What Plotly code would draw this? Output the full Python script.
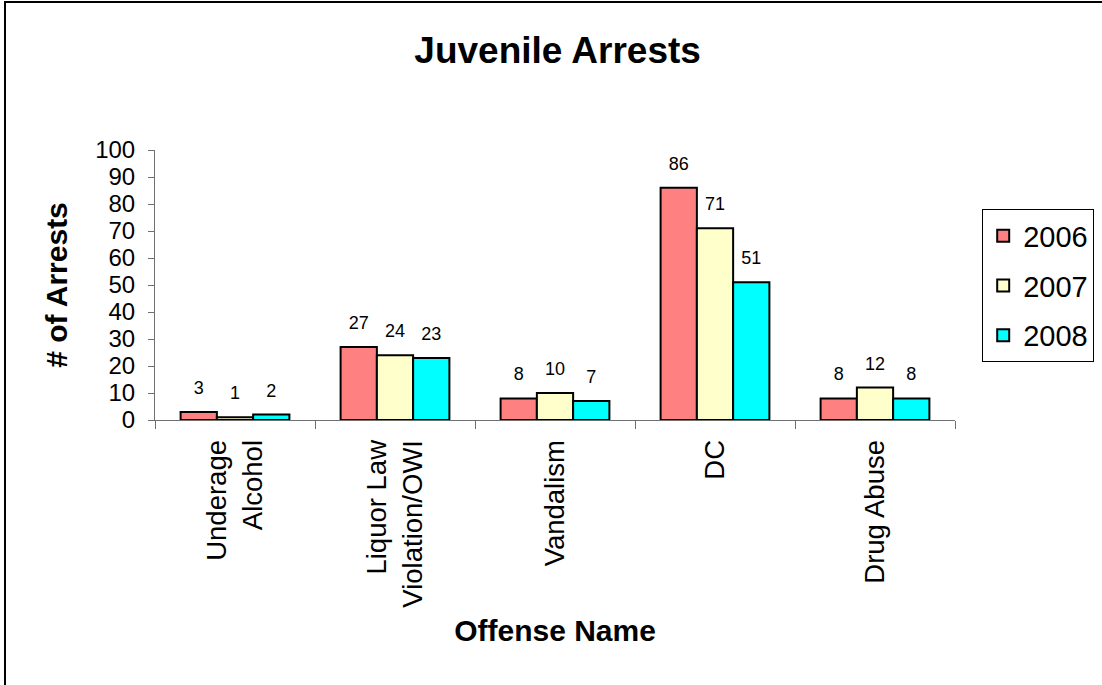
import plotly.graph_objects as go

offenses = ["Underage<br>Alcohol", "Liquor Law<br>Violation/OWI", "Vandalism", "DC", "Drug Abuse"]
years = ["2006", "2007", "2008"]
arrests_2006 = [3, 27, 8, 86, 8]
arrests_2007 = [1, 24, 10, 71, 12]
arrests_2008 = [2, 23, 7, 51, 8]
colors = ["#FF8080", "#FFFFCC", "#00FFFF"]

FONT = "Liberation Sans, Arial, sans-serif"

fig = go.Figure()
for i, (yr, vals) in enumerate(zip(years, [arrests_2006, arrests_2007, arrests_2008])):
    fig.add_trace(go.Bar(
        x=offenses, y=vals, name=yr, legendgroup=yr,
        marker=dict(color=colors[i], line=dict(color="black", width=2)),
        text=vals,
        # small blank line under the number lifts it off the bar top
        texttemplate="<span style='font-size:18px'>%{y}</span><br> ",
        textposition="outside",
        textfont=dict(size=10, color="black", family=FONT),
        cliponaxis=False,
    ))

fig.update_layout(
    width=1102, height=685,
    paper_bgcolor="white", plot_bgcolor="white",
    font=dict(family=FONT, color="black"),
    title=dict(text="<b>Juvenile Arrests</b>", x=0.506, xanchor="center",
               y=0.927, yanchor="middle", font=dict(size=37)),
    margin=dict(l=155, r=147, t=150, b=265, autoexpand=False),
    barmode="group", bargap=0.32, bargroupgap=0,
    legend=dict(x=1.034, y=0.78, xanchor="left", yanchor="top",
                font=dict(size=29), bordercolor="black", borderwidth=1,
                traceorder="grouped", tracegroupgap=9, itemsizing="constant"),
    showlegend=True,
)
fig.update_xaxes(
    title=dict(text="<b>Offense Name</b>", font=dict(size=30), standoff=13),
    tickangle=-90, tickfont=dict(size=27.5), tickson="boundaries",
    ticks="outside", ticklen=8, tickcolor="#707070", ticklabelstandoff=8,
    showline=True, linecolor="#707070", linewidth=1, showgrid=False,
    automargin=False,
)
fig.update_yaxes(
    title=dict(text="<b># of Arrests</b>", font=dict(size=30), standoff=18),
    range=[0, 100], dtick=10, tickfont=dict(size=24),
    ticks="outside", ticklen=6, tickcolor="#707070", ticklabelstandoff=8,
    showline=True, linecolor="#707070", linewidth=1, showgrid=False, zeroline=False,
    automargin=False,
)
fig.add_shape(type="rect", xref="paper", yref="paper",
              x0=-0.1875, x1=1.3, y0=-1.1, y1=1.548,
              line=dict(color="black", width=2), layer="below")

fig.write_html("out.html", config={"displayModeBar": False},
               post_script="document.body.style.margin='0';")
